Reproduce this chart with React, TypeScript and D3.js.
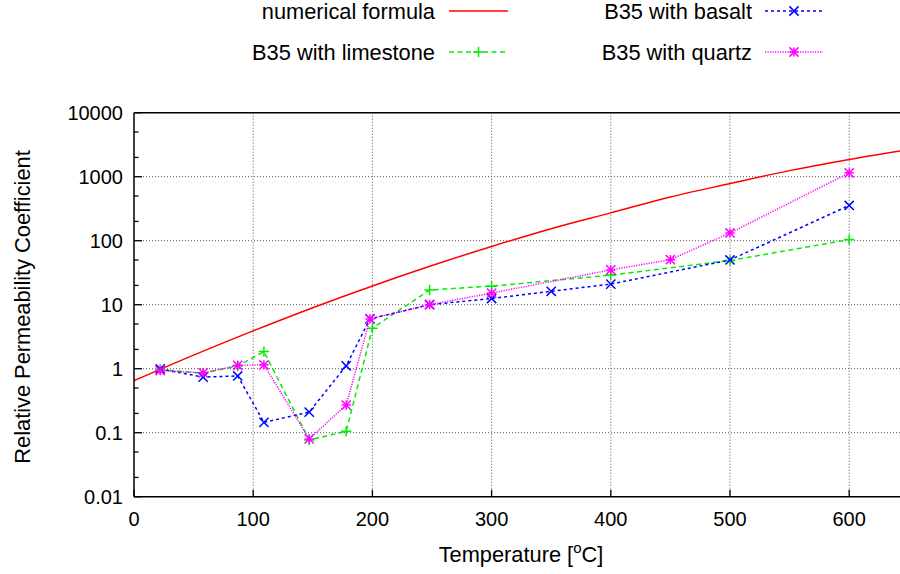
import React from "react";
import * as d3 from "d3";

// Numerical formula, tabulated every 50 °C
const formulaT = [0, 50, 100, 150, 200, 250, 300, 350, 400, 450, 500, 550, 600, 650];
const formulaK = [0.65, 1.63, 3.9, 8.97, 19.6, 40.9, 81.3, 154, 272, 482, 780, 1244, 1862, 2661];

// Measured relative permeability coefficients
const limestoneT = [22, 58, 87, 109, 147, 178, 200, 248, 300, 400, 500, 600];
const limestoneK = [0.97, 0.85, 1.1, 1.85, 0.077, 0.105, 4.3, 17, 19.5, 29, 49, 104];

const basaltT = [22, 58, 87, 109, 147, 178, 198, 248, 300, 350, 400, 500, 600];
const basaltK = [0.99, 0.74, 0.77, 0.145, 0.21, 1.11, 6.0, 10, 12.5, 16.2, 21, 50, 355];

const quartzT = [22, 58, 87, 109, 147, 178, 198, 248, 300, 400, 450, 500, 600];
const quartzK = [0.93, 0.86, 1.13, 1.15, 0.08, 0.27, 6.0, 10, 15.2, 35, 50.5, 132, 1150];

const xTicks = [0, 100, 200, 300, 400, 500, 600];
const yTicks = [0.01, 0.1, 1, 10, 100, 1000, 10000];
const yTickLabels = ["0.01", "0.1", "1", "10", "100", "1000", "10000"];
const yMinorFactors = [2, 5];

const W = 900;
const H = 574;
const FONT = "'Liberation Sans', Arial, Helvetica, sans-serif";
const FS_TICK = 20;
const FS_TEXT = 21.8;

type Pt = [number, number];
const zip = (a: number[], b: number[]): Pt[] => a.map((v, i) => [v, b[i]]);

function Marker({ kind, cx, cy, color }: { kind: string; cx: number; cy: number; color: string }) {
  const s = 4.6;
  const p = 5.2;
  const parts: React.ReactNode[] = [];
  if (kind === "x" || kind === "star") {
    parts.push(<line key="a" x1={cx - s} y1={cy - s} x2={cx + s} y2={cy + s} />);
    parts.push(<line key="b" x1={cx - s} y1={cy + s} x2={cx + s} y2={cy - s} />);
  }
  if (kind === "plus" || kind === "star") {
    const q = kind === "star" ? s : p;
    parts.push(<line key="c" x1={cx - q} y1={cy} x2={cx + q} y2={cy} />);
    parts.push(<line key="d" x1={cx} y1={cy - q} x2={cx} y2={cy + q} />);
  }
  return (
    <g stroke={color} strokeWidth={1.5} fill="none">
      {parts}
    </g>
  );
}

export default function App() {
  const x = d3.scaleLinear().domain([0, 650]).range([134, 908.8]);
  const y = d3.scaleLog().domain([0.01, 10000]).range([496.7, 112.7]);
  const x0 = x(0);
  const x1 = x(650);
  const yTop = y(10000);
  const yBot = y(0.01);

  const line = d3
    .line<Pt>()
    .x((d) => x(d[0]))
    .y((d) => y(d[1]));
  const smooth = d3
    .line<Pt>()
    .x((d) => x(d[0]))
    .y((d) => y(d[1]))
    .curve(d3.curveMonotoneX);

  const series = [
    { name: "limestone", pts: zip(limestoneT, limestoneK), color: "#00ee00", dash: "5,3.5", marker: "plus" },
    { name: "basalt", pts: zip(basaltT, basaltK), color: "#0000ff", dash: "3,3", marker: "x" },
    { name: "quartz", pts: zip(quartzT, quartzK), color: "#ff00ff", dash: "1.2,1.3", marker: "star" },
  ];

  const minorTicks: number[] = [];
  for (let i = 0; i < yTicks.length - 1; i++) {
    yMinorFactors.forEach((f) => minorTicks.push(yTicks[i] * f));
  }

  const legend = [
    { label: "numerical formula", tx: 435, ly: 11, lx1: 449, lx2: 508, color: "#ff0000", dash: undefined, marker: null },
    { label: "B35 with basalt", tx: 752, ly: 11, lx1: 765, lx2: 823, color: "#0000ff", dash: "3,3", marker: "x" },
    { label: "B35 with limestone", tx: 435, ly: 52, lx1: 449, lx2: 508, color: "#00ee00", dash: "5,3.5", marker: "plus" },
    { label: "B35 with quartz", tx: 752, ly: 52, lx1: 765, lx2: 823, color: "#ff00ff", dash: "1.2,1.3", marker: "star" },
  ];

  return (
    <svg
      width={W}
      height={H}
      viewBox={`0 0 ${W} ${H}`}
      style={{ position: "absolute", left: 0, top: 0, background: "#fff", fontFamily: FONT }}
    >
      <defs>
        <clipPath id="plot-area">
          <rect x={x0} y={yTop} width={x1 - x0} height={yBot - yTop} />
        </clipPath>
      </defs>
      <rect x={0} y={0} width={W} height={H} fill="#fff" />

      {/* grid */}
      <g stroke="#555" strokeWidth={1} strokeDasharray="1,2">
        {xTicks.slice(1).map((t) => (
          <line key={"gx" + t} x1={x(t)} x2={x(t)} y1={yTop} y2={yBot} />
        ))}
        {yTicks.slice(1, -1).map((t) => (
          <line key={"gy" + t} x1={x0} x2={x1} y1={y(t)} y2={y(t)} />
        ))}
      </g>

      {/* ticks */}
      <g stroke="#000" strokeWidth={1.3}>
        {xTicks.map((t) => (
          <line key={"tx" + t} x1={x(t)} x2={x(t)} y1={yBot} y2={yBot - 7} />
        ))}
        {yTicks.map((t) => (
          <line key={"ty" + t} x1={x0} x2={x0 + 8} y1={y(t)} y2={y(t)} />
        ))}
        {minorTicks.map((t) => (
          <line key={"tm" + t} x1={x0} x2={x0 + 4.5} y1={y(t)} y2={y(t)} />
        ))}
      </g>

      {/* data */}
      <g clipPath="url(#plot-area)">
        <path
          d={smooth(zip(formulaT, formulaK)) || ""}
          fill="none"
          stroke="#ff0000"
          strokeWidth={1.5}
        />
        {series.map((s) => (
          <g key={s.name}>
            <path d={line(s.pts) || ""} fill="none" stroke={s.color} strokeWidth={1.5} strokeDasharray={s.dash} />
            {s.pts.map((p, i) => (
              <Marker key={i} kind={s.marker} cx={x(p[0])} cy={y(p[1])} color={s.color} />
            ))}
          </g>
        ))}
      </g>

      {/* frame */}
      <g stroke="#000" strokeWidth={1.5} fill="none">
        <line x1={x0} x2={x0} y1={yTop} y2={yBot} />
        <line x1={x0} x2={x1} y1={yBot} y2={yBot} />
        <line x1={x0} x2={x1} y1={yTop} y2={yTop} />
      </g>

      {/* tick labels */}
      <g fontSize={FS_TICK} fill="#000">
        {xTicks.map((t) => (
          <text key={"lx" + t} x={x(t)} y={526} textAnchor="middle">
            {t}
          </text>
        ))}
        {yTicks.map((t, i) => (
          <text key={"ly" + t} x={123} y={y(t) + 7} textAnchor="end">
            {yTickLabels[i]}
          </text>
        ))}
      </g>

      {/* axis titles */}
      <text x={521} y={562} fontSize={FS_TEXT} textAnchor="middle" fill="#000">
        Temperature [
        <tspan fontSize={15} dy={-9}>
          o
        </tspan>
        <tspan dy={9}>C]</tspan>
      </text>
      <text
        transform={`translate(30, 307) rotate(-90)`}
        fontSize={FS_TEXT}
        textAnchor="middle"
        fill="#000"
      >
        Relative Permeability Coefficient
      </text>

      {/* legend */}
      {legend.map((l) => (
        <g key={l.label}>
          <text x={l.tx} y={l.ly + 7.5} fontSize={FS_TEXT} textAnchor="end" fill="#000">
            {l.label}
          </text>
          <line x1={l.lx1} x2={l.lx2} y1={l.ly} y2={l.ly} stroke={l.color} strokeWidth={1.5} strokeDasharray={l.dash} />
          {l.marker && <Marker kind={l.marker} cx={(l.lx1 + l.lx2) / 2} cy={l.ly} color={l.color} />}
        </g>
      ))}
    </svg>
  );
}
